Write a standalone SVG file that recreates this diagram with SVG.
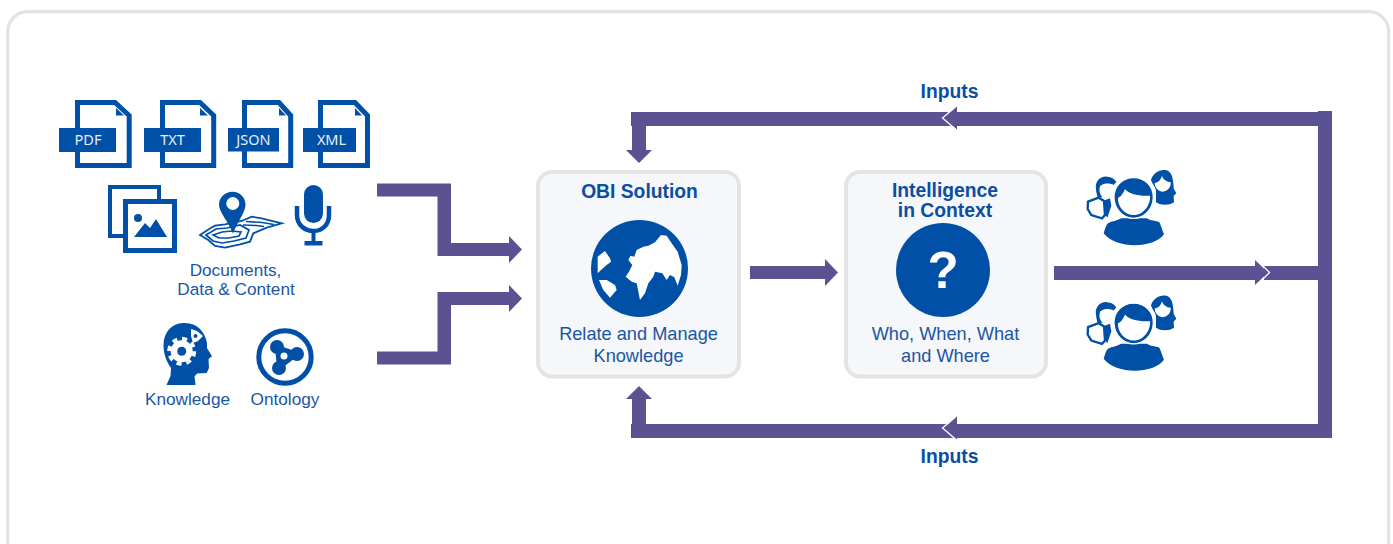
<svg xmlns="http://www.w3.org/2000/svg" width="1393" height="544" viewBox="0 0 1393 544">
<style>
.lbl{font-family:"Liberation Sans",Arial,sans-serif;font-size:17.200px;fill:#1a56a4;text-anchor:middle}
.lb2{font-family:"Liberation Sans",Arial,sans-serif;font-size:18.200px;fill:#1a56a4;text-anchor:middle}
.ttl{font-family:"Liberation Sans",Arial,sans-serif;font-size:19.300px;font-weight:700;fill:#0a4ea2;text-anchor:middle}
.tag{font-family:"Noto Sans",sans-serif;font-size:14.500px;fill:#e8eef7;text-anchor:middle}
.box{fill:#f6f7fa;stroke:#e3e4e4;stroke-width:4}
.ic{fill:#0050a8}
.flow{fill:#5b5294}
.chev{fill:none;stroke:#fff;stroke-width:1.300}
.doc{fill:#fff;stroke:#0050a8;stroke-width:5}
.map{fill:none;stroke:#0050a8;stroke-width:1.700}
</style>
<defs>
<g id="people" transform="translate(1082 165) scale(.3333)">
<path class="ic" d="M207 45C212 25 232 13 250 15C268 18 274 35 275 70L283 85L275 93L276 112C262 122 236 122 222 112L222 80C224 70 212 60 207 45Z"/>
<path fill="#fff" d="M218 54C228 52 236 46 240 32C244 44 254 50 266 52C268 66 256 80 243 80C230 80 218 68 218 54Z"/>
<path class="ic" d="M42 72C38 50 55 33 75 35C88 36 98 42 103 50L95 60C85 55 68 53 55 62C50 72 52 88 62 96L48 98C44 90 43 82 42 72Z"/>
<path class="ic" d="M68 106L84 100L88 122L76 158L70 150Z"/>
<path fill="none" stroke="#0050a8" stroke-width="7" d="M18 110L50 98L66 108L69 150L60 160L28 150L17 132Z"/>
<path class="ic" d="M65 205C70 190 72 180 78 175C90 168 105 168 118 160L195 160C205 168 220 166 232 172C238 182 240 195 246 208C215 252 100 252 65 205Z"/>
<path class="ic" stroke="#fff" stroke-width="4" d="M155 38C190 38 216 65 214 100C212 135 185 160 155 160C125 160 98 135 96 100C94 65 120 38 155 38Z"/>
<path fill="#fff" d="M129 72C138 86 170 94 204 92C207 116 186 150 156 150C126 150 106 122 108 98C117 96 124 84 129 72Z"/>
</g>
</defs>

<rect x="7.700" y="11.700" width="1381" height="560" rx="20" fill="#fff" stroke="#e3e3e3" stroke-width="3.300"/>

<g id="connectors">
<path class="flow" d="M377 183.500H451V243H509V236L522 249.500L509 263V256H437.500V196.500H377Z"/>
<path class="flow" d="M377 351.500H437.500V292H509V285L522 298.500L509 312V305H451V364.500H377Z"/>
<path class="flow" d="M750 266H825V259L838 272.500L825 286V279H750Z"/>
<path class="flow" d="M1054 266H1255V260L1268 272.500L1255 285V280H1054Z"/>
<path class="flow" d="M1264 266H1318V111H1332V438H946V424H1318V280H1264Z"/>
<path class="flow" d="M1318 112H946V126H1318Z"/>
<path class="flow" d="M957 112V106L944 118L957 130V126H960V112Z"/>
<path class="flow" d="M957 424V416L944 428L957 440V438H960V424Z"/>
<path class="flow" d="M950 112H631V126H632V150H626L639 163L652 150H646V126H950Z"/>
<path class="flow" d="M950 424H646V399H652L639 386L626 399H632V424H631V438H950Z"/>
<path class="chev" d="M1257 260L1269.500 272.500L1257 285"/>
<path class="chev" d="M956.500 106L942.500 118L956.500 130"/>
<path class="chev" d="M956.500 416L942.500 428L956.500 440"/>
</g>

<g id="doc-pdf">
<path class="doc" d="M77.500 102.500H115L129.200 115.500V165.500H77.500Z"/>
<path class="ic" d="M116 108V115.500H124Z"/>
<rect class="ic" x="59" y="128" width="57" height="24"/>
<text class="tag" x="88" y="145">PDF</text>
</g>
<g id="doc-txt">
<path class="doc" d="M162.500 102.500H200L213.700 115.500V165.500H162.500Z"/>
<path class="ic" d="M200 108V115.500H208Z"/>
<rect class="ic" x="144" y="128" width="57" height="24"/>
<text class="tag" x="172.500" y="145">TXT</text>
</g>
<g id="doc-json">
<path class="doc" d="M244.500 102.500H279L290.700 115.500V165.500H244.500Z"/>
<path class="ic" d="M279 108V115.500H286Z"/>
<rect class="ic" x="228" y="128" width="51" height="23.500"/>
<text class="tag" x="253.500" y="145">JSON</text>
</g>
<g id="doc-xml">
<path class="doc" d="M320.500 102.500H355L367.500 115.500V165.500H320.500Z"/>
<path class="ic" d="M355 108V115.500H362Z"/>
<rect class="ic" x="303" y="128" width="53" height="24"/>
<text class="tag" x="331.500" y="145">XML</text>
</g>

<g id="images">
<rect x="110" y="187" width="49" height="49" fill="#fff" stroke="#0050a8" stroke-width="4"/>
<rect x="125.500" y="201.500" width="49" height="49" fill="#fff" stroke="#0050a8" stroke-width="5"/>
<circle class="ic" cx="138" cy="218" r="4"/>
<path class="ic" d="M134 237L145 223L150 228L156 219L167 237Z"/>
</g>
<g id="map-pin">
<path fill="#fff" stroke="#0050a8" stroke-width="1.800" d="M200 235L210 228.500L215 225.700L225 224.300L241.700 221L251.700 216.700L261.700 218.300L281.700 223.300L266.700 227.700L253.300 233.300L250 241.700L240 244.300L225 247.700L215 246L208.300 240Z"/>
<path class="map" d="M206 235L216 229L227 228L240 225L249 230L246 238L234 241L222 243L213 241Z"/>
<path class="map" d="M213 235L222 232L232 231L241 232L239 236L229 238L219 238Z"/>
<path class="map" d="M246 221.500L262 222.500L274 224.500M243 225L256 225.500L264 226.500"/>
<path class="ic" d="M232.500 191.700C240 191.700 245.500 197.500 245.500 204.500C245.500 212 238 221 233 233.500C228 221 219 212 219 204.500C219 197.500 225 191.700 232.500 191.700Z"/>
<circle cx="232.800" cy="203.500" r="6.500" fill="#fff"/>
</g>
<g id="mic">
<rect class="ic" x="304" y="185" width="19" height="38" rx="9.500"/>
<path fill="none" stroke="#0050a8" stroke-width="4.500" d="M297 206V215C297 225 305 231 313.500 231C322 231 329 225 329 215V206"/>
<rect class="ic" x="311.500" y="231" width="4" height="12"/>
<rect class="ic" x="304.500" y="241" width="18" height="4.500"/>
</g>
<text class="lbl" x="235.500" y="276">Documents,</text>
<text class="lbl" x="236" y="295">Data &amp; Content</text>

<g id="knowledge">
<path class="ic" d="M183 323C196 322 205 331 207 343L207 348L212 356.300L208.500 359L209 368L206.700 373L197 373.500L194.500 376.500L195.500 385H166.500L170.500 376L171 368C166 361 163.500 353 163.500 345C163.500 332 172 323.500 183 323Z"/>
<circle cx="181.700" cy="351.300" r="11" fill="#fff"/>
<circle cx="181.700" cy="351.300" r="12.500" fill="none" stroke="#fff" stroke-width="4" stroke-dasharray="5 4.820"/>
<circle class="ic" cx="181.700" cy="351.300" r="4.500"/>
<path fill="#fff" d="M191 329L197 331L203 336L198 341L193 343L191 336Z"/>
<circle class="ic" cx="195.500" cy="336" r="2"/>
<text class="lbl" x="187.500" y="405">Knowledge</text>
</g>
<g id="ontology">
<circle cx="285" cy="357" r="26.200" fill="none" stroke="#0050a8" stroke-width="5"/>
<circle class="ic" cx="277" cy="347" r="7"/>
<circle class="ic" cx="297" cy="354" r="7"/>
<circle class="ic" cx="279" cy="368" r="7"/>
<path class="ic" d="M277 347L297 354L279 368Z" stroke="#0050a8" stroke-width="4"/>
<circle cx="284" cy="356" r="3.500" fill="#fff"/>
<text class="lbl" x="285" y="405">Ontology</text>
</g>

<g id="obi-solution">
<rect class="box" x="538" y="172" width="201" height="204.500" rx="14"/>
<text class="ttl" x="639.500" y="197.500">OBI Solution</text>
<circle class="ic" cx="639.500" cy="268.500" r="48.500"/>
<g transform="translate(585 215) scale(.3333)" fill="#fff">
<path d="M122 185L132 170L142 150L130 135L136 122L148 125L155 105L175 95L190 92L210 82L228 60L245 62L260 85L278 110L290 150L288 180L278 212L268 187L255 180L245 195L232 175L210 170L205 185L190 205L180 235L165 255L155 205L140 200Z"/>
<path d="M38 125L60 108L75 130L78 140L65 150L48 165L38 175Z"/>
<path d="M42 195L65 195L90 210L95 225L75 248L55 225Z"/>
</g>
<text class="lb2" x="638.500" y="340">Relate and Manage</text>
<text class="lb2" x="638.500" y="362">Knowledge</text>
</g>
<g id="intelligence">
<rect class="box" x="846" y="172" width="200" height="204.500" rx="14"/>
<text class="ttl" x="945" y="197">Intelligence</text>
<text class="ttl" x="945" y="217">in Context</text>
<circle class="ic" cx="943" cy="270" r="47"/>
<text x="943" y="288" text-anchor="middle" font-family="Liberation Sans,Arial,sans-serif" font-size="51" font-weight="700" fill="#fff">?</text>
<text class="lb2" x="945.500" y="340">Who, When, What</text>
<text class="lb2" x="945.500" y="362">and Where</text>
</g>

<g id="users-top"><use href="#people"/></g>
<g id="users-bottom"><use href="#people" y="125.500"/></g>

<text class="ttl" x="949.500" y="97.500">Inputs</text>
<text class="ttl" x="949.500" y="462.500">Inputs</text>
</svg>
